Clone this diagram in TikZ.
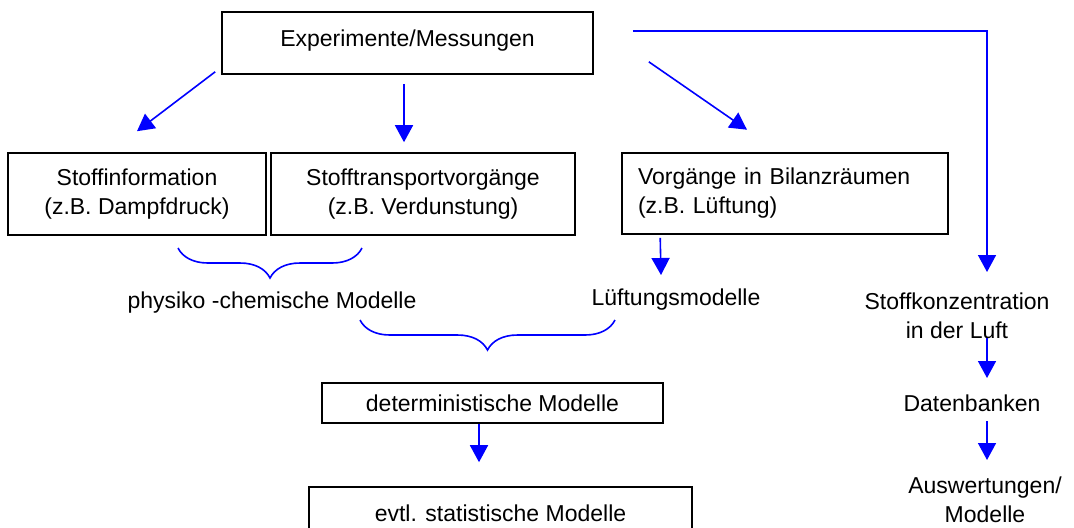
\documentclass[tikz,border=0pt]{standalone}
\usepackage{fontspec}
\setmainfont{Liberation Sans}
\usetikzlibrary{positioning,arrows.meta,decorations.pathreplacing}

\begin{document}
\begin{tikzpicture}[
    x=0.5pt, y=-0.5pt,
    font=\fontsize{11.5}{14.5}\selectfont,
    box/.style={rectangle, draw=black, line width=0.8pt, inner sep=0pt, text centered, align=center},
    txt/.style={inner sep=0pt, align=center},
    pfeil/.style={-{Triangle[length=8.5pt,width=9pt]}, blue, line width=0.8pt},
    klammer/.style={decorate, decoration={brace, mirror, amplitude=15pt}, blue, line width=0.8pt}
]
    \clip (0,0) rectangle (1074,527);
    \useasboundingbox (0,0) rectangle (1074,527);

    \node[box, minimum width=185.5pt, minimum height=31pt, text depth=5pt] (exp) at (407.5,43) {Experimente/Messungen};
    \node[box, minimum width=129pt, minimum height=41pt] (info) at (137,194) {Stoffinformation\\(z.B. Dampfdruck)};
    \node[box, minimum width=152pt, minimum height=41pt] (trans) at (423,194) {Stofftransportvorgänge\\(z.B. Verdunstung)};
    \node[box, text width=147pt, inner xsep=8pt, minimum height=40.5pt, align=left] (vorg) at (785,193.5) {Vorgänge in Bilanzräumen\\(z.B. Lüftung)};

    \node[txt] (phys) at (272,303) {physiko -chemische Modelle};
    \node[txt] (lueft) at (676,300) {Lüftungsmodelle};
    \node[txt] (konz) at (957,316) {Stoffkonzentration\\in der Luft};
    \node[txt] (dat) at (972,403) {Datenbanken};
    \node[txt] (ausw) at (985,500) {Auswertungen/\\Modelle};

    \node[box, minimum width=170.5pt, minimum height=20pt] (det) at (492.5,403) {deterministische Modelle};
    \node[box, minimum width=191.5pt, minimum height=26pt] (stat) at (500.5,513) {evtl. statistische Modelle};

    \coordinate (konzin) at (987,272);

    \draw[pfeil] ([shift={(-6,-3)}]exp.south west) -- ([shift={(0,-21)}]info.north);
    \draw[pfeil] ([shift={(-3.5,9)}]exp.south) -- ([shift={(-19,-10)}]trans.north);
    \draw[pfeil] ([shift={(55,-13)}]exp.south east) -- ([shift={(-38,-22.5)}]vorg.north);
    \draw[pfeil] ([shift={(39,20)}]exp.north east) -| (konzin);
    \draw[pfeil] ([shift={(39,3)}]vorg.south west) -- ([shift={(-15,-25)}]lueft.center);
    \draw[pfeil] ([shift={(30,22)}]konz.center) -- ([shift={(15,-25)}]dat.center);
    \draw[pfeil] ([shift={(15,18)}]dat.center) -- ([shift={(2,-40)}]ausw.center);
    \draw[pfeil] ([shift={(-13.5,0)}]det.south) -- ([shift={(-21.5,-24)}]stat.north);

    % Klammern
    \draw[klammer] (178,248) -- (362,248);
    \draw[klammer] (360,320) -- (615,320);
\end{tikzpicture}
\end{document}
